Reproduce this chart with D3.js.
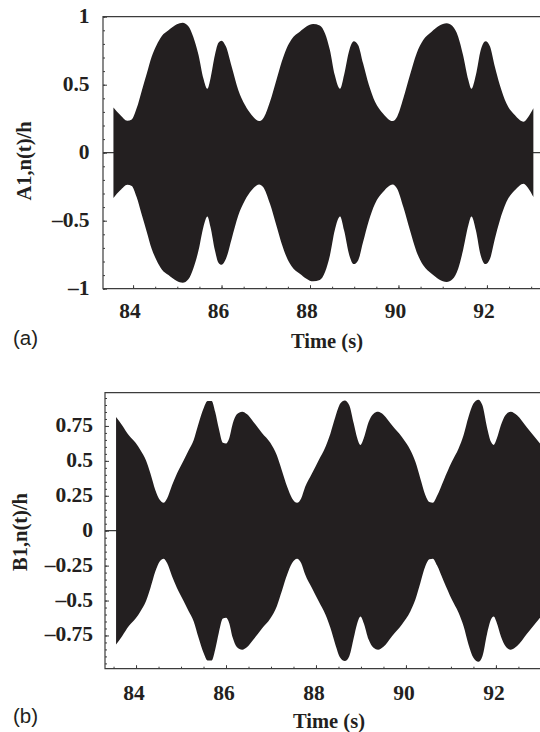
<!DOCTYPE html>
<html lang="en">
<head>
<meta charset="UTF-8">
<title>Envelope time histories</title>
<script src="https://cdnjs.cloudflare.com/ajax/libs/d3/7.8.5/d3.min.js"></script>
<style>
html, body { margin: 0; padding: 0; background: #fff; }
svg { display: block; }
text { fill: #231f20; }
.tick-label, .axis-title { font-family: "Liberation Serif", serif; font-weight: bold; }
.tick-label { font-size: 21.5px; }
.axis-title { font-size: 20.5px; }
.panel-tag { font-family: "Liberation Sans", sans-serif; font-size: 20.5px; }
.frame { stroke: #3c3c3c; stroke-width: 1.2; fill: none; }
.axis line { stroke: #3c3c3c; stroke-width: 1; }
.axis path { display: none; }
</style>
</head>
<body>
<div id="chart"></div>
<script>
// envelope of the fast oscillation (signal fills +/- envelope)
var timeA = [83.556,83.71,83.87,83.97,84.08,84.2,84.31,84.42,84.53,84.65,84.8,84.99,85.12,85.25,85.36,85.48,85.59,85.68,85.75,85.85,85.93,86.0,86.1,86.23,86.38,86.53,86.68,86.85,86.94,87.095,87.25,87.36,87.47,87.58,87.77,88.07,88.22,88.34,88.45,88.56,88.68,88.77,88.89,88.99,89.09,89.2,89.33,89.47,89.65,89.87,89.97,90.11,90.26,90.41,90.56,90.75,91.09,91.22,91.35,91.46,91.58,91.65,91.75,91.86,91.97,92.07,92.18,92.29,92.44,92.63,92.83,92.93,93.05];
var envA = [0.333,0.277,0.235,0.245,0.326,0.46,0.583,0.706,0.79,0.858,0.90,0.944,0.956,0.93,0.853,0.718,0.546,0.47,0.546,0.718,0.809,0.824,0.78,0.632,0.46,0.35,0.277,0.233,0.252,0.375,0.546,0.669,0.767,0.833,0.89,0.946,0.936,0.877,0.755,0.571,0.47,0.571,0.755,0.819,0.79,0.657,0.5,0.375,0.289,0.233,0.265,0.40,0.571,0.73,0.828,0.89,0.951,0.931,0.853,0.718,0.534,0.47,0.571,0.755,0.819,0.78,0.632,0.5,0.363,0.277,0.228,0.26,0.326];

var timeB = [83.556,83.69,83.84,83.99,84.1,84.22,84.32,84.43,84.53,84.61,84.69,84.8,84.91,85.06,85.17,85.28,85.39,85.5,85.59,85.68,85.76,85.84,85.93,86,86.07,86.15,86.24,86.36,86.47,86.61,86.8,86.985,87.13,87.24,87.36,87.47,87.58,87.67,87.76,87.91,88.06,88.21,88.32,88.43,88.54,88.64,88.74,88.84,88.91,88.99,89.06,89.17,89.28,89.38,89.5,89.69,89.91,90.1,90.21,90.32,90.43,90.52,90.6,90.69,90.84,91.02,91.17,91.28,91.39,91.5,91.61,91.7,91.8,91.89,91.95,92.02,92.11,92.21,92.33,92.47,92.69,92.98];
var envB = [0.814,0.755,0.683,0.629,0.576,0.505,0.41,0.29,0.219,0.2,0.231,0.326,0.41,0.505,0.576,0.648,0.767,0.874,0.929,0.929,0.85,0.731,0.629,0.624,0.66,0.767,0.833,0.852,0.833,0.779,0.7,0.629,0.54,0.433,0.314,0.231,0.2,0.231,0.314,0.41,0.505,0.6,0.695,0.814,0.91,0.933,0.898,0.767,0.671,0.614,0.66,0.779,0.838,0.852,0.831,0.755,0.671,0.576,0.493,0.374,0.255,0.205,0.2,0.248,0.362,0.493,0.588,0.683,0.814,0.91,0.938,0.898,0.743,0.636,0.614,0.66,0.755,0.826,0.852,0.826,0.738,0.624];

var xTicks = [84, 86, 88, 90, 92];
var yTicksA = [-1, -0.5, 0, 0.5, 1];
var yLabelsA = ["\u20131", "\u20130.5", "0", "0.5", "1"];
var yTicksB = [-0.75, -0.5, -0.25, 0, 0.25, 0.5, 0.75];
var yLabelsB = ["\u20130.75", "\u20130.5", "\u20130.25", "0", "0.25", "0.5", "0.75"];

var width = 540, height = 732;
var svg = d3.select("#chart").append("svg").attr("width", width).attr("height", height);

function drawPanel(o) {
  var x = d3.scaleLinear().domain(o.xDomain).range([o.left, width]);
  var y = d3.scaleLinear().domain(o.yDomain).range([o.bottom, o.top]);
  var g = svg.append("g");

  var rows = o.time.map(function (t, i) { return { t: t, e: o.env[i] }; });
  var area = d3.area()
    .x(function (d) { return x(d.t); })
    .y0(function (d) { return y(-d.e); })
    .y1(function (d) { return y(d.e); })
    .curve(d3.curveMonotoneX);

  // zero line runs the whole width, the signal covers most of it
  g.append("line").attr("class", "frame")
    .attr("x1", o.left).attr("x2", width).attr("y1", y(0)).attr("y2", y(0));

  g.append("path").datum(rows).attr("d", area).attr("fill", "#231f20");

  // ticks point inward, labels are placed by hand below
  g.append("g").attr("class", "axis").attr("transform", "translate(" + o.left + ",0)")
    .call(d3.axisRight(y).tickValues(o.yMinor).tickSize(2).tickFormat(""));
  g.append("g").attr("class", "axis").attr("transform", "translate(" + o.left + ",0)")
    .call(d3.axisRight(y).tickValues(o.yTicks).tickSize(4).tickFormat(""));
  g.append("g").attr("class", "axis").attr("transform", "translate(0," + o.bottom + ")")
    .call(d3.axisTop(x).tickValues(o.xMinor).tickSize(2).tickFormat(""));
  g.append("g").attr("class", "axis").attr("transform", "translate(0," + o.bottom + ")")
    .call(d3.axisTop(x).tickValues(xTicks).tickSize(3.5).tickFormat(""));

  g.append("path").attr("class", "frame")
    .attr("d", "M" + width + "," + o.top + "H" + o.left + "V" + o.bottom + "H" + width);

  g.selectAll(".ylab").data(o.yTicks).enter().append("text")
    .attr("class", "tick-label")
    .attr("x", o.yLabelX)
    .attr("y", function (d) { return y(d) + 6; })
    .attr("text-anchor", "end")
    .text(function (d, i) { return o.yLabels[i]; });

  g.selectAll(".xlab").data(xTicks).enter().append("text")
    .attr("class", "tick-label")
    .attr("x", function (d) { return x(d) + o.xLabelShift; })
    .attr("y", o.xLabelY)
    .attr("text-anchor", "middle")
    .text(function (d) { return d; });

  g.append("text").attr("class", "axis-title")
    .attr("transform", "translate(" + o.yTitleX + "," + o.yTitleY + ") rotate(-90)")
    .attr("text-anchor", "middle")
    .text(o.yTitle);

  g.append("text").attr("class", "axis-title")
    .attr("x", o.xTitleX).attr("y", o.xTitleY)
    .attr("text-anchor", "middle")
    .text("Time (s)");

  g.append("text").attr("class", "panel-tag")
    .attr("x", 13).attr("y", o.tagY)
    .text(o.tag);
}

drawPanel({
  time: timeA, env: envA,
  xDomain: [83.32, 93.2], yDomain: [-1, 1],
  left: 103, top: 16.7, bottom: 288.7,
  yTicks: yTicksA, yLabels: yLabelsA,
  yMinor: d3.range(-10, 11).map(function (d) { return d / 10; }),
  xMinor: d3.range(84, 93.5, 0.5),
  yLabelX: 89.5, xLabelY: 317.5, xLabelShift: -3,
  yTitle: "A1,n(t)/h", yTitleX: 31, yTitleY: 161,
  xTitleX: 327, xTitleY: 347.5,
  tag: "(a)", tagY: 345
});

drawPanel({
  time: timeB, env: envB,
  xDomain: [83.31, 92.98], yDomain: [-0.988, 0.988],
  left: 105, top: 392.7, bottom: 668.7,
  yTicks: yTicksB, yLabels: yLabelsB,
  yMinor: d3.range(-19, 20).map(function (d) { return d / 20; }),
  xMinor: d3.range(83.5, 93, 0.5),
  yLabelX: 93, xLabelY: 699.5, xLabelShift: -2,
  yTitle: "B1,n(t)/h", yTitleX: 27, yTitleY: 532,
  xTitleX: 329, xTitleY: 727.5,
  tag: "(b)", tagY: 723
});
</script>
</body>
</html>
